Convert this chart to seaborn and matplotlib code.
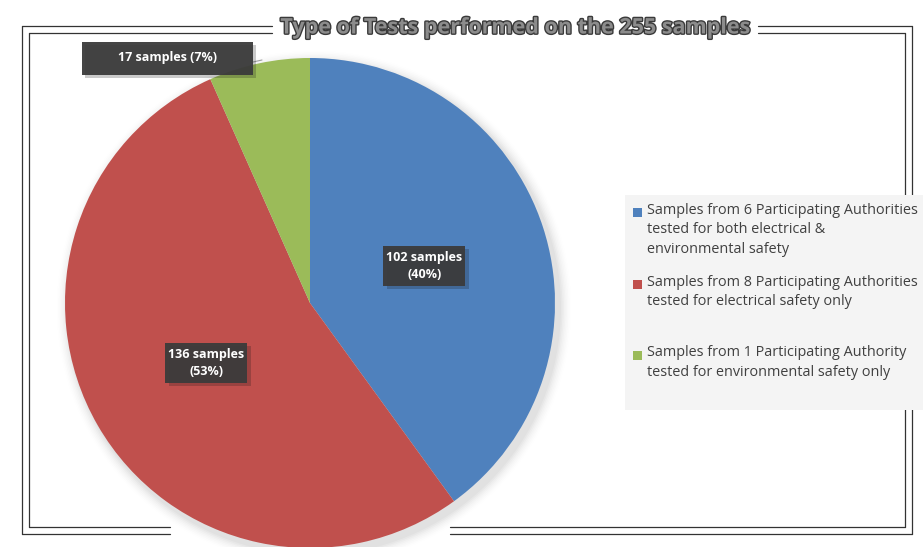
import numpy as np
import matplotlib
matplotlib.use("Agg")
import matplotlib.pyplot as plt
import matplotlib.patheffects as pe
from matplotlib.patches import Rectangle, Circle
import seaborn as sns

# Sample counts per test type
categories = [
    "Samples from 6 Participating Authorities\ntested for both electrical &\nenvironmental safety",
    "Samples from 8 Participating Authorities\ntested for electrical safety only",
    "Samples from 1 Participating Authority\ntested for environmental safety only",
]
counts = [102, 136, 17]
colors = ["#4F81BD", "#C0504D", "#9BBB59"]
title = "Type of Tests performed on the 255 samples"

sns.set_theme(style="white")
plt.rcParams["font.family"] = ["Open Sans", "DejaVu Sans"]

W, H = 923, 547
fig = plt.figure(figsize=(W / 100, H / 100), dpi=100)
fig.patch.set_facecolor("white")
ax = fig.add_axes([0, 0, 1, 1])

def Y(y):
    return H - y

cx, cy, R = 310, 303, 245
total = sum(counts)

# soft shadow behind the pie
for i, a in enumerate(np.linspace(0.05, 0.01, 8)):
    ax.add_patch(Circle((cx + 4, Y(cy) - 5), R + 2 + i * 1.5, color="black",
                        alpha=a * 0.5, lw=0, zorder=1))

wedges, _ = ax.pie(counts, colors=colors, startangle=90, counterclock=False,
                   center=(cx, Y(cy)), radius=R, frame=True,
                   wedgeprops=dict(linewidth=0, zorder=2))
ax.set_xlim(0, W)
ax.set_ylim(0, H)
ax.set_aspect("equal")
ax.axis("off")

def pct(v):
    return f"{round(100 * v / total)}%"

shadow = [pe.withSimplePatchShadow(offset=(2.5, -2.5), alpha=0.22)]
label_kw = dict(color="white", fontsize=9, fontweight="bold", ha="center",
                va="center", zorder=6, linespacing=1.35)

def dark_box(x, y, w, h):
    ax.add_patch(Rectangle((x - w / 2, y - h / 2), w, h, fc="#3B3B3B", ec="none",
                           alpha=0.95, zorder=5, path_effects=shadow))

# inside labels at wedge mid-angles
angles = []
start = 90.0
for v in counts:
    span = 360.0 * v / total
    angles.append(start - span / 2)
    start -= span

for i in (0, 1):
    th = np.deg2rad(angles[i])
    x = cx + 0.49 * R * np.cos(th)
    y = Y(cy) + 0.49 * R * np.sin(th)
    dark_box(x, y, 82, 40)
    ax.text(x, y, f"{counts[i]} samples\n({pct(counts[i])})", **label_kw)

# outside label for the small slice with leader line
ax.plot([253, 262], [Y(62), Y(60)], color="#A0A0A0", lw=0.8, zorder=5)
dark_box(167.5, Y(58.5), 171, 33)
ax.text(167.5, Y(57), f"{counts[2]} samples ({pct(counts[2])})", **label_kw)

# double frame lines around the chart area
fr = dict(color="#333333", lw=0.9, zorder=0)
for off in (0, 7):
    ax.plot([22 + off, 22 + off], [Y(26 + off), Y(534 - off)], **fr)
    ax.plot([912 - off, 912 - off], [Y(26 + off), Y(534 - off)], **fr)
    ax.plot([22 + off, 272], [Y(26 + off), Y(26 + off)], **fr)
    ax.plot([758, 912 - off], [Y(26 + off), Y(26 + off)], **fr)
    ax.plot([22 + off, 170], [Y(534 - off), Y(534 - off)], **fr)
    ax.plot([450, 912 - off], [Y(534 - off), Y(534 - off)], **fr)

# legend panel
ax.add_patch(Rectangle((625, Y(410)), 298, 215, fc="#F4F4F4", ec="none", zorder=3))
leg_y = [212, 284, 355]
for c, txt, y0 in zip(colors, categories, leg_y):
    ax.add_patch(Rectangle((633, Y(y0) - 4.5), 9, 9, fc=c, ec="none", zorder=4))
    ax.text(647, Y(y0) + 9.5, txt, ha="left", va="top", fontsize=10.4,
            color="#404040", linespacing=1.42, zorder=4)

# title
ax.text(515, Y(28), title, ha="center", va="center", fontsize=15.5,
        color="#8C8C8C", fontweight="bold", zorder=7,
        path_effects=[pe.withStroke(linewidth=2.0, foreground="#3A3A3A")])

fig.savefig("out.png", dpi=100, facecolor="white")
